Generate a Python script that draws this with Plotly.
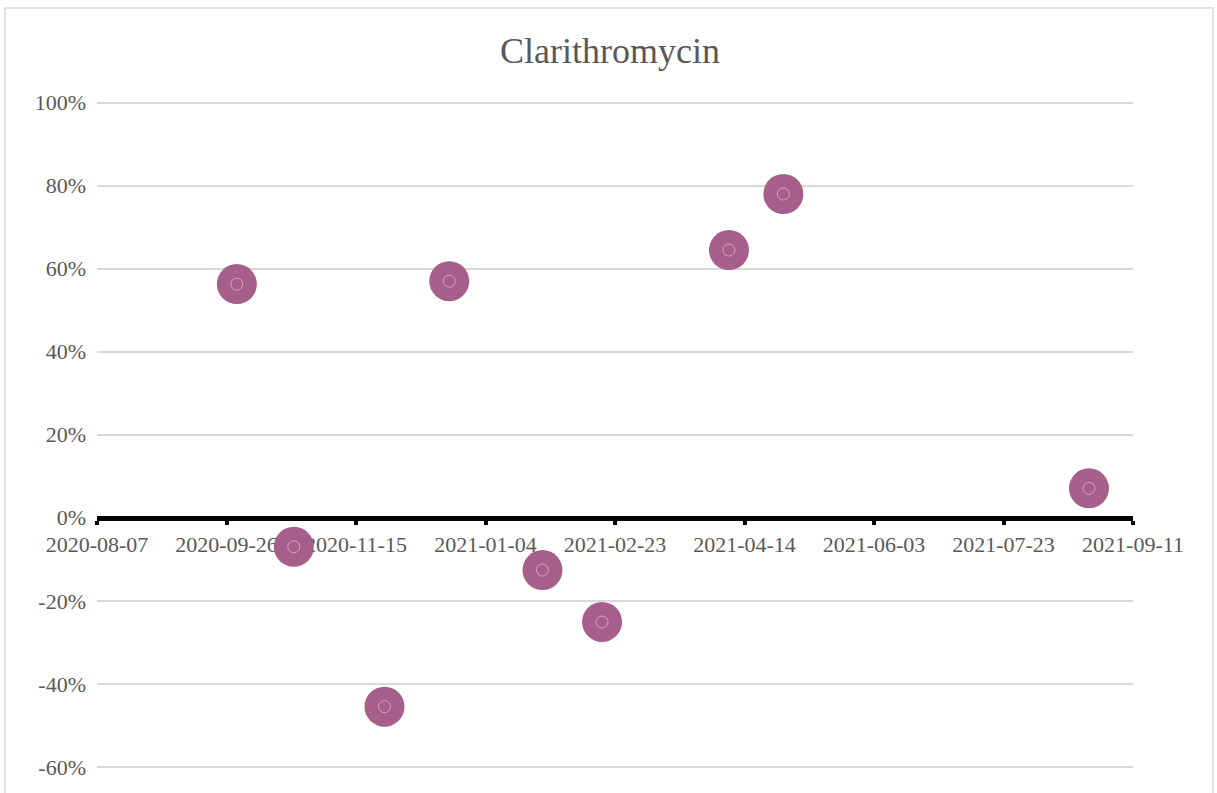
import plotly.graph_objects as go

# Sampling dates and the relative change for clarithromycin
dates = ["2020-09-30", "2020-10-22", "2020-11-26", "2020-12-21", "2021-01-26",
         "2021-02-18", "2021-04-08", "2021-04-29", "2021-08-25"]
changes = [0.563, -0.070, -0.455, 0.570, -0.126, -0.251, 0.645, 0.780, 0.071]

y_tickvals = [-0.6, -0.4, -0.2, 0.0, 0.2, 0.4, 0.6, 0.8, 1.0]
y_ticktext = ["-60%", "-40%", "-20%", "0%", "20%", "40%", "60%", "80%", "100%"]

x_start = "2020-08-07"
x_end = "2021-09-11"
y_min, y_max = -0.663, 1.004

FONT = "Liberation Serif"
TEXT = "#595959"
MARK = "#A65E8A"
GRID = "#d9d9d9"

fig = go.Figure()
fig.add_trace(go.Scatter(
    x=dates, y=changes, mode="markers", cliponaxis=False,
    marker=dict(size=40, color=MARK, line=dict(width=0)),
    hoverinfo="x+y", showlegend=False,
))
fig.add_trace(go.Scatter(
    x=dates, y=changes, mode="markers", cliponaxis=False,
    marker=dict(size=12, symbol="circle-open", color="rgba(235,200,220,0.8)",
                line=dict(width=0.8)),
    hoverinfo="skip", showlegend=False,
))

# x axis sits on the 0% line
zero_pos = (0 - y_min) / (y_max - y_min)

fig.update_layout(
    width=1217, height=793,
    margin=dict(l=97, r=84, t=101, b=0),
    paper_bgcolor="white", plot_bgcolor="white",
    font=dict(family=FONT, color=TEXT, size=22),
    title=dict(text="Clarithromycin", x=(610 - 97) / 1036, xref="paper", xanchor="center",
               y=1 - 50 / 793, yref="container", yanchor="middle",
               font=dict(family=FONT, size=36, color=TEXT)),
    xaxis=dict(
        type="date", range=[x_start, x_end],
        tick0=x_start, dtick=50 * 86400000, tickformat="%Y-%m-%d",
        showgrid=False, zeroline=False,
        showline=True, linecolor="black", linewidth=5,
        ticks="outside", ticklen=4, tickwidth=4, tickcolor="black",
        anchor="free", position=zero_pos, layer="below traces",
        tickfont=dict(family=FONT, size=22, color=TEXT),
        ticklabelstandoff=1,
    ),
    yaxis=dict(
        range=[y_min, y_max],
        tickvals=y_tickvals, ticktext=y_ticktext,
        showgrid=True, gridcolor=GRID, gridwidth=1.5,
        zeroline=False, showline=False, ticks="",
        tickfont=dict(family=FONT, size=22, color=TEXT),
        ticklabelstandoff=10,
    ),
    shapes=[dict(
        type="rect", xref="paper", yref="paper",
        x0=(5 - 97) / 1036, x1=(1213 - 97) / 1036,
        y0=-0.05, y1=(793 - 8) / 692,
        line=dict(color=GRID, width=1.5), fillcolor="rgba(0,0,0,0)", layer="below",
    )],
)

fig.write_html("out.html")
